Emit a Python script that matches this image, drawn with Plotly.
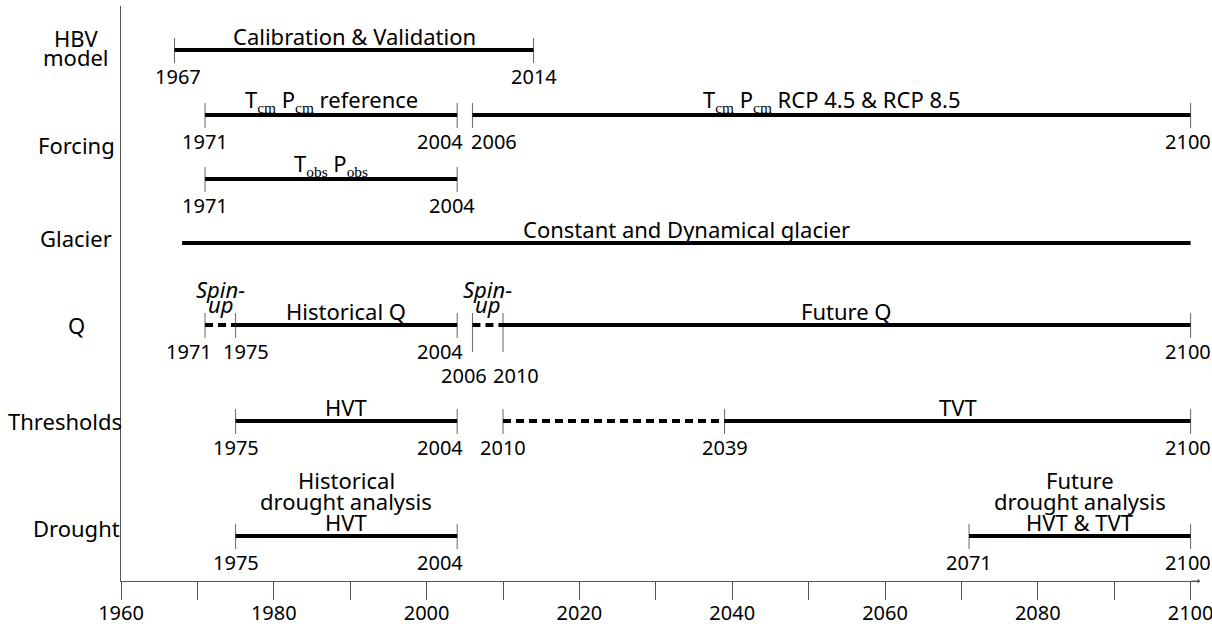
import plotly.graph_objects as go

# ── data ─────────────────────────────────────────────
row_keys = ['hbv', 'forc_cm', 'forc_obs', 'glacier', 'q', 'thr', 'drought']

seg_row = ['hbv', 'forc_cm', 'forc_cm', 'forc_obs', 'glacier',
           'q', 'q', 'q', 'q', 'thr', 'thr', 'thr', 'drought', 'drought']
seg_start = [1967, 1971, 2006, 1971, 1968, 1971, 1975, 2006, 2010, 1975, 2010, 2039, 1975, 2071]
seg_end = [2014, 2004, 2100, 2004, 2100, 1975, 2004, 2010, 2100, 2004, 2039, 2100, 2004, 2100]
seg_dashed = [False, False, False, False, False, True, False, True, False, False, True, False, False, False]
seg_label = [
    'Calibration & Validation',
    'T<sub>cm</sub> P<sub>cm</sub> reference',
    'T<sub>cm</sub> P<sub>cm</sub> RCP 4.5 & RCP 8.5',
    'T<sub>obs</sub> P<sub>obs</sub>',
    'Constant and Dynamical glacier',
    '<i>Spin-</i><br><i>up</i>',
    'Historical Q',
    '<i>Spin-</i><br><i>up</i>',
    'Future Q',
    'HVT',
    '',
    'TVT',
    'Historical<br>drought analysis<br>HVT',
    'Future<br>drought analysis<br>HVT & TVT',
]

mark_row = ['hbv', 'hbv',
            'forc_cm', 'forc_cm', 'forc_cm', 'forc_cm',
            'forc_obs', 'forc_obs',
            'q', 'q', 'q', 'q', 'q', 'q',
            'thr', 'thr', 'thr', 'thr', 'thr',
            'drought', 'drought', 'drought', 'drought']
mark_year = [1967, 2014,
             1971, 2004, 2006, 2100,
             1971, 2004,
             1971, 1975, 2004, 2006, 2010, 2100,
             1975, 2004, 2010, 2039, 2100,
             1975, 2004, 2071, 2100]

row_names = ['HBV<br>model', 'Forcing', 'Glacier', 'Q', 'Thresholds', 'Drought']

axis_ticks = list(range(1960, 2101, 10))
axis_labels = [str(t) if t % 20 == 0 else '' for t in axis_ticks]

# ── layout (pixel positions / styles) ────────────────
ROW_Y = {'hbv': 50, 'forc_cm': 115, 'forc_obs': 179, 'glacier': 243,
         'q': 325, 'thr': 421, 'drought': 536}
NAME_POS = [(76, 47), (76, 145), (76, 238), (76, 325), (65, 421), (76, 528)]  # centre px
LABEL_SHIFT = {('hbv', 1967): 4,
               ('forc_cm', 2004): -17, ('forc_cm', 2006): 22,
               ('forc_obs', 2004): -5,
               ('q', 1971): -16, ('q', 1975): 10, ('q', 2004): -17,
               ('q', 2006): -8, ('q', 2010): 13,
               ('thr', 2004): -17, ('drought', 2004): -17}
LOW_LABEL = {('q', 2006), ('q', 2010)}

L, R, T, B = 121, 12, 6, 45
W, H = 1212, 626
X0 = 1960
PX_PER_YR = 7.64
X1 = X0 + (W - L - R) / PX_PER_YR

FONT = 'Noto Sans'
SUBFONT = 'Liberation Serif'
GRAY = '#666666'
AX = '#555555'


def sub_style(s):
    return s.replace('<sub>', f'<sub><span style="font-family:{SUBFONT};color:black">').replace('</sub>', '</span></sub>')


fig = go.Figure()

# tick marks at segment ends
for r, yr in zip(mark_row, mark_year):
    y = ROW_Y[r]
    low = 27 if (r, yr) in LOW_LABEL else 13
    fig.add_trace(go.Scatter(
        x=[yr, yr], y=[y - 12, y + low], mode='lines',
        line=dict(color=GRAY, width=1), hoverinfo='skip', showlegend=False,
    ))

# segments
for r, a, b, d in zip(seg_row, seg_start, seg_end, seg_dashed):
    y = ROW_Y[r]
    fig.add_trace(go.Scatter(
        x=[a, b], y=[y, y], mode='lines',
        line=dict(color='black', width=4, dash='8px,5px' if d else 'solid'),
        hoverinfo='skip', showlegend=False,
    ))

# segment labels (one annotation per line, tight leading)
for r, a, b, lab in zip(seg_row, seg_start, seg_end, seg_label):
    if not lab:
        continue
    lines = lab.split('<br>')
    spin = '<i>' in lab
    step = 15 if spin else 21
    base = 4 if spin else -3
    for k, ln in enumerate(reversed(lines)):
        fig.add_annotation(
            x=(a + b) / 2, y=ROW_Y[r], xref='x', yref='y',
            text=sub_style(ln), showarrow=False, yanchor='bottom',
            yshift=base + k * step, font=dict(size=22, family=FONT, color='black'),
        )

# year labels
for r, yr in zip(mark_row, mark_year):
    dy = 50 if (r, yr) in LOW_LABEL else 26
    sx = LABEL_SHIFT.get((r, yr), 0) - (3 if yr == 2100 else 0)
    fig.add_annotation(
        x=yr, y=ROW_Y[r], xref='x', yref='y', text=str(yr), showarrow=False,
        yanchor='middle', yshift=-dy, xshift=sx,
        font=dict(size=20, family=FONT, color='black'),
    )

# row names on the left
for name, (px, py) in zip(row_names, NAME_POS):
    lines = name.split('<br>')
    for k, ln in enumerate(lines):
        fig.add_annotation(
            x=(px - L) / (W - L - R), y=py, xref='paper', yref='y',
            text=ln, showarrow=False, xanchor='center', yanchor='middle',
            yshift=-(k - (len(lines) - 1) / 2) * 19,
            font=dict(size=22, family=FONT, color='black'),
        )

# arrow tip on time axis
fig.add_annotation(
    x=1, y=0, xref='paper', yref='paper', ax=-10, ay=0, text='',
    showarrow=True, arrowhead=1, arrowsize=0.8, arrowwidth=1, arrowcolor=AX,
)

fig.update_layout(
    width=W, height=H,
    margin=dict(l=L, r=R, t=T, b=B, pad=0, autoexpand=False),
    paper_bgcolor='white', plot_bgcolor='white',
    font=dict(family=FONT, size=20, color='black'),
    showlegend=False,
    xaxis=dict(
        range=[X0, X1], tickmode='array', tickvals=axis_ticks, ticktext=axis_labels,
        ticks='outside', ticklen=18, tickwidth=1, tickcolor=AX,
        showline=True, linecolor=AX, linewidth=1, automargin=False,
        ticklabeloverflow='allow', ticklabelstandoff=-4,
        showgrid=False, zeroline=False, tickfont=dict(size=20, family=FONT, color='black'),
    ),
    yaxis=dict(
        range=[H - B, T], showline=True, linecolor=AX, linewidth=1, automargin=False,
        showticklabels=False, ticks='', showgrid=False, zeroline=False,
    ),
)

fig.write_html('out.html', config={'displayModeBar': False},
               post_script="document.body.style.margin='0';")
